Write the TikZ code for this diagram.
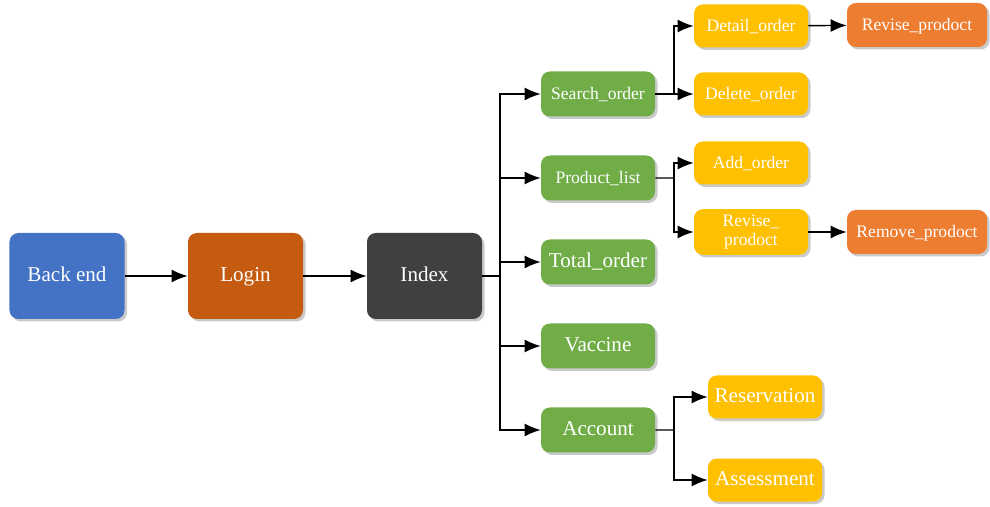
\documentclass[tikz,border=0pt]{standalone}
\usepackage{fontspec}
\setmainfont{Liberation Serif}
\usetikzlibrary{shapes.geometric, arrows, arrows.meta, positioning, shadows}
\definecolor{bkblue}{HTML}{4472C4}
\definecolor{lgbrown}{HTML}{C55A11}
\definecolor{ixgray}{HTML}{404040}
\definecolor{pagegreen}{HTML}{70AD47}
\definecolor{subyellow}{HTML}{FFC000}
\definecolor{actorange}{HTML}{ED7D31}
\tikzstyle{base} = [rectangle, rounded corners=5pt, text centered, text=white, text height=1.5ex, text depth=0.1ex, drop shadow={shadow xshift=0.05cm, shadow yshift=-0.05cm, fill=black!35, opacity=0.6}]
\tikzstyle{mainbox} = [base, minimum width=2.3cm, minimum height=1.72cm, font=\fontsize{12}{14}\selectfont]
\tikzstyle{page} = [base, minimum width=2.28cm, minimum height=0.9cm, fill=pagegreen]
\tikzstyle{sub} = [base, minimum width=2.28cm, minimum height=0.86cm, fill=subyellow]
\tikzstyle{act} = [base, minimum width=2.8cm, minimum height=0.88cm, fill=actorange, font=\fontsize{10}{12}\selectfont]
\tikzstyle{small} = [font=\fontsize{10}{12}\selectfont]
\tikzstyle{large} = [font=\fontsize{12}{14}\selectfont]
\tikzstyle{arrow} = [thick,-{Latex[length=3.2mm,width=2.6mm]}]

\begin{document}
\begin{tikzpicture}[node distance=3.57cm]
\useasboundingbox (0,0) rectangle (19.8,-10.14);

%main chain
\node (backend) [mainbox, fill=bkblue] at (1.34,-5.52) {Back end};
\node (login) [mainbox, fill=lgbrown, right of=backend] {Login};
\node (index) [mainbox, fill=ixgray, right of=login, xshift=0.01cm] {Index};

%pages
\node (search) [page, small] at (11.96,-1.88) {Search\_order};
\node (product) [page, small, below of=search, node distance=1.68cm] {Product\_list};
\node (total) [page, large, below of=product, node distance=1.68cm] {Total\_order};
\node (vaccine) [page, large, below of=total, node distance=1.68cm] {Vaccine};
\node (account) [page, large, below of=vaccine, node distance=1.68cm] {Account};

%sub pages
\node (detail) [sub, small] at (15.02,-0.52) {Detail\_order};
\node (delete) [sub, small] at (15.02,-1.88) {Delete\_order};
\node (add) [sub, small] at (15.02,-3.26) {Add\_order};
\node (revise) [sub, small, align=center, text height=, text depth=, font=\fontsize{10}{10.5}\selectfont] at (15.02,-4.64) {Revise\_\\prodoct};
\node (reserve) [sub, large] at (15.30,-7.94) {Reservation};
\node (assess) [sub, large] at (15.30,-9.60) {Assessment};

%actions
\node (reviseprod) [act] at (18.34,-0.50) {Revise\_prodoct};
\node (removeprod) [act] at (18.34,-4.64) {Remove\_prodoct};

%branch points
\coordinate (trunk) at (10.0,-5.52);
\coordinate (sbranch) at (13.48,-1.88);
\coordinate (pbranch) at (13.48,-3.56);
\coordinate (abranch) at (13.48,-8.60);

%% draw the chart
\draw [arrow] (backend) -- (login);
\draw [arrow] (login) -- (index);
\draw [thick] (index) -- (trunk);
\draw [arrow] (trunk) |- (search);
\draw [arrow] (trunk) |- (product);
\draw [arrow] (trunk) |- (total);
\draw [arrow] (trunk) |- (vaccine);
\draw [arrow] (trunk) |- (account);

\draw [thick] (search) -- (sbranch);
\draw [arrow] (sbranch) |- (detail);
\draw [arrow] (sbranch) -- (delete);
\draw [thick] (product) -- (pbranch);
\draw [arrow] (pbranch) |- (add);
\draw [arrow] (pbranch) |- (revise);
\draw [thick] (account) -- (abranch);
\draw [arrow] (abranch) |- (reserve);
\draw [arrow] (abranch) |- (assess);

\draw [arrow] (detail) -- (reviseprod);
\draw [arrow] (revise) -- (removeprod);

\end{tikzpicture}
\end{document}
